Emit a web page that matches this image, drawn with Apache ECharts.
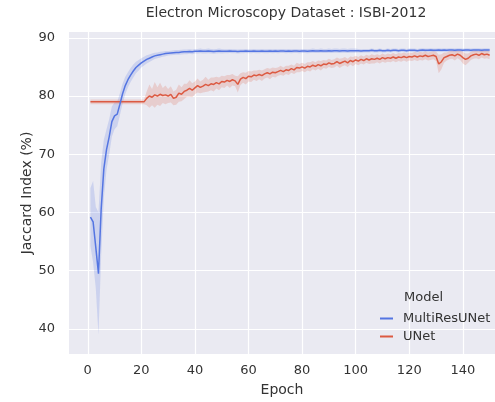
<!DOCTYPE html>
<html>
<head>
<meta charset="utf-8">
<script src="https://cdn.jsdelivr.net/npm/echarts@6/dist/echarts.min.js"></script>
<style>
  html, body { margin: 0; padding: 0; background: #fff; }
  #chart { width: 495px; height: 402px; }
</style>
</head>
<body>
<div id="chart"></div>
<script type="text/javascript">
// epochs 1..150
var epochs = [];
for (var e = 1; e <= 150; e++) epochs.push(e);

var xTicks = [0, 20, 40, 60, 80, 100, 120, 140];
var yTicks = [40, 50, 60, 70, 80, 90];

// MultiResUNet mean jaccard (%)
var multiResMean = [
  59.2, 58.4, 54.0, 49.5, 60.5, 67.5, 70.8, 73.0, 75.6, 76.6,
  76.9, 78.6, 80.4, 81.8, 82.8, 83.6, 84.3, 84.9, 85.3, 85.7,
  86.0, 86.3, 86.5, 86.7, 86.9, 87.0, 87.1, 87.2, 87.3, 87.35,
  87.4, 87.45, 87.5, 87.5, 87.55, 87.6, 87.6, 87.65, 87.6, 87.7,
  87.7, 87.75, 87.7, 87.7, 87.75, 87.7, 87.65, 87.7, 87.75, 87.7,
  87.7, 87.7, 87.75, 87.7, 87.7, 87.65, 87.7, 87.7, 87.75, 87.7,
  87.7, 87.75, 87.7, 87.7, 87.75, 87.7, 87.7, 87.75, 87.7, 87.75,
  87.7, 87.75, 87.75, 87.7, 87.75, 87.7, 87.75, 87.75, 87.7, 87.75,
  87.75, 87.7, 87.75, 87.8, 87.75, 87.75, 87.8, 87.75, 87.75, 87.8,
  87.75, 87.8, 87.8, 87.75, 87.8, 87.8, 87.75, 87.8, 87.8, 87.8,
  87.8, 87.75, 87.8, 87.8, 87.8, 87.85, 87.8, 87.8, 87.85, 87.8,
  87.8, 87.85, 87.8, 87.85, 87.85, 87.8, 87.85, 87.85, 87.8, 87.85,
  87.85, 87.85, 87.8, 87.85, 87.9, 87.85, 87.85, 87.9, 87.85, 87.85,
  87.9, 87.85, 87.9, 87.85, 87.9, 87.9, 87.85, 87.9, 87.9, 87.85,
  87.9, 87.9, 87.85, 87.9, 87.9, 87.9, 87.85, 87.9, 87.9, 87.9
];
// half width of the MultiResUNet confidence band
var multiResBand = [
  5, 7, 7, 10.5, 8, 5, 3.5, 3, 2.6, 2.3,
  2.1, 1.9, 1.7, 1.5, 1.3, 1.2, 1.1, 1.0, 0.9, 0.8,
  0.75, 0.7, 0.65, 0.6, 0.55, 0.5, 0.5, 0.45, 0.45, 0.4,
  0.4, 0.4, 0.4, 0.4, 0.4, 0.4, 0.4, 0.4, 0.4, 0.4,
  0.4, 0.4, 0.4, 0.4, 0.4, 0.4, 0.4, 0.4, 0.4, 0.4,
  0.35, 0.35, 0.35, 0.35, 0.35, 0.35, 0.35, 0.35, 0.35, 0.35,
  0.35, 0.35, 0.35, 0.35, 0.35, 0.35, 0.35, 0.35, 0.35, 0.35,
  0.35, 0.35, 0.35, 0.35, 0.35, 0.35, 0.35, 0.35, 0.35, 0.35,
  0.35, 0.35, 0.35, 0.35, 0.35, 0.35, 0.35, 0.35, 0.35, 0.35,
  0.35, 0.35, 0.35, 0.35, 0.35, 0.35, 0.35, 0.35, 0.35, 0.35,
  0.3, 0.3, 0.3, 0.3, 0.3, 0.3, 0.3, 0.3, 0.3, 0.3,
  0.3, 0.3, 0.3, 0.3, 0.3, 0.3, 0.3, 0.3, 0.3, 0.3,
  0.3, 0.3, 0.3, 0.3, 0.3, 0.3, 0.3, 0.3, 0.3, 0.3,
  0.3, 0.3, 0.3, 0.3, 0.3, 0.3, 0.3, 0.3, 0.3, 0.3,
  0.3, 0.3, 0.3, 0.3, 0.3, 0.3, 0.3, 0.3, 0.3, 0.3
];

// UNet mean jaccard (%)
var unetMean = [
  79.0, 79.0, 79.0, 79.0, 79.0, 79.0, 79.0, 79.0, 79.0, 79.0,
  79.0, 79.0, 79.0, 79.0, 79.0, 79.0, 79.0, 79.0, 79.0, 79.0,
  79.0, 79.6, 80.0, 79.8, 80.2, 80.0, 80.3, 80.1, 80.2, 80.0,
  80.3, 79.6, 79.8, 80.5, 80.3, 80.8, 81.0, 81.3, 81.0, 81.4,
  81.8, 81.5, 81.7, 82.0, 81.8, 82.1, 82.0, 82.3, 82.1, 82.5,
  82.4, 82.7, 82.5, 82.8, 82.6, 82.0, 82.9, 83.2, 83.0, 83.4,
  83.3, 83.6, 83.5, 83.7, 83.5, 83.8, 84.0, 83.8, 84.1, 84.0,
  84.2, 84.4, 84.2, 84.5, 84.4, 84.7, 84.5, 84.9, 84.8, 85.0,
  84.8, 85.1, 85.0, 85.3, 85.1, 85.4, 85.2, 85.5, 85.4, 85.7,
  85.5, 85.6, 85.9, 85.6, 85.8, 86.0, 85.7, 86.1, 85.9, 86.2,
  86.0, 86.3, 86.1, 86.4, 86.2, 86.4, 86.3, 86.5, 86.3, 86.6,
  86.4, 86.6, 86.5, 86.7, 86.5, 86.7, 86.6, 86.8, 86.6, 86.8,
  86.7, 86.9, 86.7, 86.9, 86.8, 87.0, 86.8, 86.9, 87.0, 86.8,
  85.5, 85.9, 86.6, 86.8, 87.0, 87.1, 86.9, 87.2, 87.0, 86.6,
  86.3, 86.5, 86.9, 87.1, 87.2, 87.0, 87.3, 87.1, 87.2, 87.0
];
// half width of the UNet confidence band
var unetBand = [
  0.4, 0.4, 0.4, 0.4, 0.4, 0.4, 0.4, 0.4, 0.4, 0.4,
  0.4, 0.4, 0.4, 0.4, 0.4, 0.4, 0.4, 0.4, 0.4, 0.4,
  0.4, 1.2, 2.0, 1.4, 2.2, 1.5, 2.0, 1.3, 1.6, 1.2,
  1.4, 1.2, 1.3, 1.5, 1.2, 1.3, 1.1, 1.4, 1.2, 1.1,
  1.2, 1.0, 1.1, 1.3, 1.0, 1.1, 1.2, 1.0, 1.1, 1.0,
  1.0, 0.9, 1.1, 1.0, 0.9, 1.4, 1.0, 0.9, 1.0, 0.9,
  0.9, 0.8, 0.9, 0.8, 0.9, 0.8, 0.8, 0.9, 0.8, 0.8,
  0.7, 0.8, 0.7, 0.7, 0.8, 0.7, 0.7, 0.8, 0.7, 0.7,
  0.7, 0.7, 0.8, 0.7, 0.7, 0.7, 0.8, 0.7, 0.7, 0.7,
  0.7, 0.7, 0.7, 0.8, 0.7, 0.7, 0.7, 0.7, 0.8, 0.7,
  0.7, 0.7, 0.7, 0.7, 0.7, 0.8, 0.7, 0.7, 0.7, 0.7,
  0.7, 0.7, 0.7, 0.7, 0.7, 0.7, 0.7, 0.7, 0.7, 0.7,
  0.7, 0.7, 0.7, 0.7, 0.7, 0.7, 0.7, 0.7, 0.7, 0.8,
  1.6, 1.3, 0.9, 0.7, 0.7, 0.7, 0.8, 0.7, 0.8, 1.0,
  1.0, 0.8, 0.7, 0.7, 0.7, 0.7, 0.7, 0.7, 0.7, 0.7
];

var blue = '#5475e2';
var red = '#dc5a42';

function pairs(vals) {
  var out = [];
  for (var i = 0; i < epochs.length; i++) out.push([epochs[i], vals[i]]);
  return out;
}

// shaded band drawn as one polygon through the axis scales
function bandSeries(mean, half, color) {
  return {
    type: 'custom',
    silent: true,
    z: 1,
    clip: true,
    data: [[epochs[0], mean[0]]],
    renderItem: function (params, api) {
      var pts = [];
      for (var i = 0; i < epochs.length; i++) pts.push(api.coord([epochs[i], mean[i] + half[i]]));
      for (var j = epochs.length - 1; j >= 0; j--) pts.push(api.coord([epochs[j], mean[j] - half[j]]));
      return {
        type: 'polygon',
        shape: { points: pts },
        style: { fill: color, opacity: 0.2 }
      };
    }
  };
}

var myChart = echarts.init(document.getElementById('chart'));
var txt = '#333';
var font = 'DejaVu Sans';
var option = {
  animation: false,
  title: [{
    text: 'Electron Microscopy Dataset : ISBI-2012',
    left: 281, top: 1, textAlign: 'center',
    textStyle: { fontFamily: font, fontSize: 14, fontWeight: 'normal', color: txt }
  }, {
    text: 'Model',
    left: 399, top: 286,
    textStyle: { fontFamily: font, fontSize: 13, fontWeight: 'normal', color: txt }
  }],
  grid: {
    left: 69, right: 0, top: 32, bottom: 47,
    show: true, backgroundColor: '#eaeaf2', borderWidth: 0
  },
  legend: {
    data: ['MultiResUNet', 'UNet'],
    orient: 'vertical',
    left: 375, top: 307,
    icon: 'rect',
    itemWidth: 13, itemHeight: 2, itemGap: 5,
    textStyle: { fontFamily: font, fontSize: 13, color: txt, padding: [0, 0, 0, 5] }
  },
  xAxis: {
    type: 'value', min: -7, max: 152,
    name: 'Epoch', nameLocation: 'middle', nameGap: 29,
    nameMoveOverlap: false,
    nameTextStyle: { fontFamily: font, fontSize: 14, color: txt },
    axisLine: { show: false },
    axisTick: { show: false, customValues: xTicks },
    axisLabel: { customValues: xTicks, margin: 10, fontFamily: font, fontSize: 13, color: txt },
    splitLine: { show: true, lineStyle: { color: '#ffffff', width: 1.2 } }
  },
  yAxis: {
    type: 'value', min: 35.7, max: 91,
    name: 'Jaccard Index (%)', nameLocation: 'middle', nameGap: 35,
    nameMoveOverlap: false,
    nameTextStyle: { fontFamily: font, fontSize: 14, color: txt },
    axisLine: { show: false },
    axisTick: { show: false, customValues: yTicks },
    axisLabel: { customValues: yTicks, margin: 14, fontFamily: font, fontSize: 13, color: txt },
    splitLine: { show: true, lineStyle: { color: '#ffffff', width: 1.2 } }
  },
  series: [
    bandSeries(multiResMean, multiResBand, blue),
    bandSeries(unetMean, unetBand, red),
    {
      name: 'MultiResUNet', type: 'line', z: 3,
      symbol: 'none', data: pairs(multiResMean),
      itemStyle: { color: blue },
      lineStyle: { color: blue, width: 1.5 }
    },
    {
      name: 'UNet', type: 'line', z: 2,
      symbol: 'none', data: pairs(unetMean),
      itemStyle: { color: red },
      lineStyle: { color: red, width: 1.5 }
    }
  ]
};
myChart.setOption(option);
</script>
</body>
</html>
